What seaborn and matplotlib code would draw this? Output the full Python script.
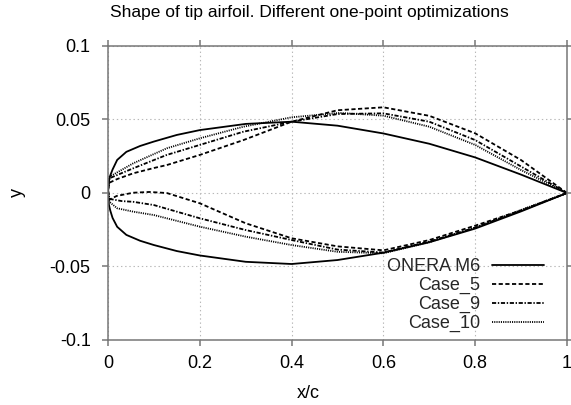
import matplotlib
matplotlib.use("Agg")
import matplotlib.pyplot as plt
import seaborn as sns
import numpy as np
import pandas as pd
from matplotlib.lines import Line2D

# ---------------- data ----------------
series_names = ["ONERA M6", "Case_5", "Case_9", "Case_10"]

m6_x = [0, 0.002, 0.005, 0.01, 0.02, 0.04, 0.07, 0.1, 0.15, 0.2, 0.3, 0.4, 0.5, 0.6, 0.7, 0.8, 0.9, 1.0]
m6_upper = [0, 0.008, 0.012, 0.016, 0.0225, 0.028, 0.032, 0.035, 0.0395, 0.0428, 0.047, 0.0485, 0.0458, 0.0405, 0.0335, 0.0242, 0.0125, 0]
m6_lower = [0, -0.008, -0.012, -0.017, -0.023, -0.0285, -0.0325, -0.0354, -0.0395, -0.0425, -0.0468, -0.0483, -0.0456, -0.0406, -0.0335, -0.0242, -0.0125, 0]

c5_upper_x = [0, 0.003, 0.02, 0.055, 0.1, 0.128, 0.2, 0.295, 0.4, 0.5, 0.6, 0.7, 0.8, 0.9, 1.0]
c5_upper = [0.002, 0.007, 0.0095, 0.0134, 0.017, 0.019, 0.0259, 0.036, 0.0485, 0.0563, 0.0583, 0.0525, 0.0406, 0.0224, 0]
c5_lower_x = [0, 0.003, 0.019, 0.055, 0.09, 0.128, 0.2, 0.3, 0.4, 0.5, 0.6, 0.7, 0.8, 0.9, 1.0]
c5_lower = [0.002, -0.0045, -0.002, 0.0002, 0.0007, 0.0, -0.007, -0.0206, -0.0308, -0.0363, -0.0390, -0.0320, -0.0222, -0.0118, 0]

c9_upper_x = [0, 0.003, 0.055, 0.128, 0.2, 0.295, 0.4, 0.5, 0.6, 0.7, 0.8, 0.9, 1.0]
c9_upper = [0.002, 0.010, 0.0168, 0.0259, 0.0327, 0.0417, 0.0485, 0.0537, 0.0542, 0.0485, 0.036, 0.018, 0]
c9_lower_x = [0, 0.003, 0.03, 0.055, 0.1, 0.2, 0.3, 0.4, 0.5, 0.6, 0.7, 0.8, 0.9, 1.0]
c9_lower = [0.002, -0.004, -0.0055, -0.006, -0.0082, -0.0172, -0.0252, -0.032, -0.0385, -0.0405, -0.033, -0.0235, -0.012, 0]

c10_upper_x = [0, 0.003, 0.055, 0.128, 0.2, 0.295, 0.4, 0.505, 0.6, 0.7, 0.8, 0.9, 1.0]
c10_upper = [0.002, 0.011, 0.0202, 0.0304, 0.0372, 0.0451, 0.0515, 0.0545, 0.0526, 0.0451, 0.0327, 0.0156, 0]
c10_lower_x = [0, 0.003, 0.02, 0.055, 0.1, 0.2, 0.3, 0.4, 0.5, 0.6, 0.7, 0.8, 0.9, 1.0]
c10_lower = [0.002, -0.006, -0.0104, -0.0127, -0.015, -0.0229, -0.0297, -0.0354, -0.040, -0.041, -0.0335, -0.0235, -0.0115, 0]

x_ticks = [0, 0.2, 0.4, 0.6, 0.8, 1.0]
x_tick_labels = ["0", "0.2", "0.4", "0.6", "0.8", "1"]
y_ticks = [-0.1, -0.05, 0, 0.05, 0.1]
y_tick_labels = ["-0.1", "-0.05", "0", "0.05", "0.1"]

# ---------------- style ----------------
sns.set_theme(style="white")
plt.rcParams["font.family"] = ["Liberation Sans", "DejaVu Sans"]
plt.rcParams["lines.scale_dashes"] = False

fig = plt.figure(figsize=(5.71, 4.05), dpi=100)
ax = fig.add_axes([108 / 571, 1 - 340 / 405, (567 - 108) / 571, (340 - 46) / 405])

dash_styles = {
    "ONERA M6": "-",
    "Case_5": (0, (3.0, 1.8)),
    "Case_9": (0, (3.0, 1.2, 1.0, 1.2)),
    "Case_10": (0, (0.8, 0.8)),
}

curves = {
    "ONERA M6": (m6_x, m6_upper, m6_x, m6_lower),
    "Case_5": (c5_upper_x, c5_upper, c5_lower_x, c5_lower),
    "Case_9": (c9_upper_x, c9_upper, c9_lower_x, c9_lower),
    "Case_10": (c10_upper_x, c10_upper, c10_lower_x, c10_lower),
}

for name in series_names:
    ux, uy, lx, ly = curves[name]
    xs = list(ux[::-1]) + list(lx[1:])
    ys = list(uy[::-1]) + list(ly[1:])
    df = pd.DataFrame({"x": xs, "y": ys})
    sns.lineplot(data=df, x="x", y="y", sort=False, estimator=None, ax=ax,
                 color="black", linewidth=1.3, linestyle=dash_styles[name])

ax.set_xlim(0, 1)
ax.set_ylim(-0.1, 0.1)
ax.set_xticks(x_ticks)
ax.set_xticklabels(x_tick_labels)
ax.set_yticks(y_ticks)
ax.set_yticklabels(y_tick_labels)

ax.grid(True, color="#b8b8b8", linestyle=(0, (1, 2)), linewidth=0.8)
for sp in ax.spines.values():
    sp.set_color("#777777")
    sp.set_linewidth(1.1)
ax.tick_params(axis="both", which="both", direction="out", length=4.5, width=1.1,
               color="#777777", labelsize=13, labelcolor="black",
               top=True, right=True, bottom=True, left=True)
ax.tick_params(axis="x", pad=6)
ax.tick_params(axis="y", pad=8)

ax.set_xlabel("x/c", fontsize=13, color="black")
ax.set_ylabel("y", fontsize=13, color="black")
ax.xaxis.set_label_coords((308 - 108) / 459, (340 - 393) / 294)
ax.xaxis.label.set_va("center")
ax.yaxis.set_label_coords((17 - 108) / 459, 0.5)
ax.yaxis.label.set_va("center")

fig.text(309 / 571, 1 - 13 / 405, "Shape of tip airfoil. Different one-point optimizations",
         ha="center", va="center", fontsize=12.5, color="black")

handles = [Line2D([0], [0], color="black", linewidth=1.3, linestyle=dash_styles[n]) for n in series_names]
leg = ax.legend(handles, series_names, loc="lower right",
                bbox_to_anchor=((544 - 108) / 459, 0.027), frameon=False,
                markerfirst=False, fontsize=13, handlelength=2.88,
                handletextpad=0.66, labelspacing=0.1, borderpad=0, borderaxespad=0)
for t in leg.get_texts():
    t.set_ha("right")

fig.savefig("out.png", dpi=100)
